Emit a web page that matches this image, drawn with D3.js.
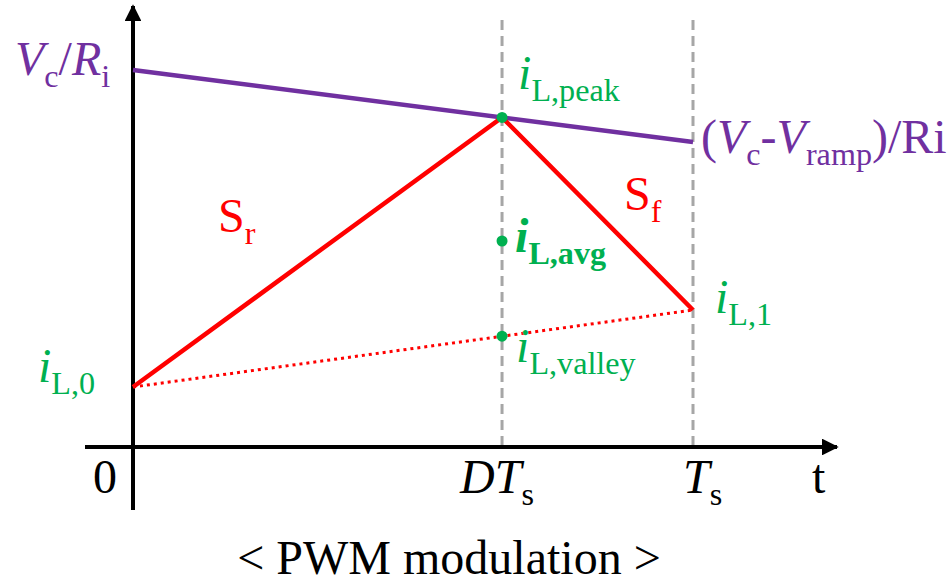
<!DOCTYPE html>
<html>
  <head>
    <meta charset="utf-8">
    <title>PWM modulation</title>
    <script src="https://d3js.org/d3.v7.min.js"></script>
    <style>
      body { margin: 0; background: #fff; }
      text { font-family: "Liberation Serif", "Times New Roman", serif; }
    </style>
  </head>
  <body>
    <div class="chart"></div>
    <script>
      // time points, in units of Ts
      var tPoints = [0, 0.659, 1];
      // inductor current: iL,0 / iL,peak / iL,1
      var iL = [15, 82.4, 34.25];
      // compensation ramp: Vc/Ri at 0, (Vc-Vramp)/Ri at Ts
      var ramp = [94.25, 76.25];
      var iValley = 27.7;
      var iAvg = 51.5;
      var tickLabels = ["0", "DT", "T", "t"];

      var purple = "#7030a0", red = "#ff0000", green = "#00b050";

      var svg = d3.select("div.chart").append("svg")
        .attr("width", 952)
        .attr("height", 585);

      var x = d3.scaleLinear().domain([0, 1]).range([133, 693]);
      var y = d3.scaleLinear().domain([0, 100]).range([447, 47]);

      var defs = svg.append("defs");
      defs.append("marker")
        .attr("id", "arrow")
        .attr("viewBox", "0 0 10 10")
        .attr("refX", 9).attr("refY", 5)
        .attr("markerWidth", 4.2).attr("markerHeight", 4.2)
        .attr("markerUnits", "strokeWidth")
        .attr("orient", "auto")
        .append("path").attr("d", "M0,0 L10,5 L0,10 Z").attr("fill", "#000");

      // dashed guides at DTs and Ts
      svg.selectAll("line.guide")
        .data(tPoints.slice(1))
        .enter().append("line")
        .attr("class", "guide")
        .attr("x1", d => x(d)).attr("x2", d => x(d))
        .attr("y1", 20).attr("y2", y(0))
        .attr("stroke", "#a6a6a6")
        .attr("stroke-width", 3)
        .attr("stroke-dasharray", "10,6");

      // axes
      svg.append("line")
        .attr("x1", 85).attr("x2", 837)
        .attr("y1", y(0)).attr("y2", y(0))
        .attr("stroke", "#000").attr("stroke-width", 4)
        .attr("marker-end", "url(#arrow)");
      svg.append("line")
        .attr("x1", x(0)).attr("x2", x(0))
        .attr("y1", 510).attr("y2", 6)
        .attr("stroke", "#000").attr("stroke-width", 4)
        .attr("marker-end", "url(#arrow)");

      var line = d3.line().x(d => x(d[0])).y(d => y(d[1]));

      // valley line (dotted)
      svg.append("path")
        .attr("d", line([[tPoints[0], iL[0]], [tPoints[2], iL[2]]]))
        .attr("fill", "none")
        .attr("stroke", red).attr("stroke-width", 3)
        .attr("stroke-dasharray", "3,4");

      // ramp
      svg.append("path")
        .attr("d", line([[tPoints[0], ramp[0]], [tPoints[2], ramp[1]]]))
        .attr("fill", "none")
        .attr("stroke", purple).attr("stroke-width", 4.5);

      // inductor current
      svg.append("path")
        .attr("d", line(tPoints.map((t, i) => [t, iL[i]])))
        .attr("fill", "none")
        .attr("stroke", red).attr("stroke-width", 4.5)
        .attr("stroke-linejoin", "miter");

      // dots
      svg.selectAll("circle")
        .data([iL[1], iAvg, iValley])
        .enter().append("circle")
        .attr("cx", x(tPoints[1]))
        .attr("cy", d => y(d))
        .attr("r", 5.5)
        .attr("fill", green);

      // parts: [text, italic, subscript, bold]
      function label(px, py, color, parts, size, anchor) {
        size = size || 48;
        var t = svg.append("text")
          .attr("x", px).attr("y", py)
          .attr("fill", color)
          .attr("font-size", size)
          .attr("text-anchor", anchor || "start");
        var down = false;
        parts.forEach(function (p) {
          var s = t.append("tspan").text(p[0]);
          if (p[1]) s.attr("font-style", "italic");
          if (p[3]) s.attr("font-weight", "bold");
          if (p[2]) {
            s.attr("font-size", size * 0.67);
            if (!down) { s.attr("dy", 12); down = true; }
          } else if (down) {
            s.attr("dy", -12); down = false;
          }
        });
        return t;
      }

      label(15, y(ramp[0]) + 5, purple,
        [["V", 1], ["c", 0, 1], ["/", 0], ["R", 1], ["i", 0, 1]]);
      label(x(1) + 8, y(ramp[1]) + 11, purple,
        [["(", 0], ["V", 1], ["c", 0, 1], ["-", 0], ["V", 1], ["ramp", 0, 1], [")/Ri", 0]]);

      label(218, 232, red, [["S", 0], ["r", 0, 1]]);
      label(624, 210, red, [["S", 0], ["f", 0, 1]]);

      label(x(tPoints[1]) + 16, y(iL[1]) - 28, green, [["i", 1], ["L,peak", 0, 1]]);
      label(x(tPoints[1]) + 13, y(iAvg) + 11, green, [["i", 1, 0, 1], ["L,avg", 0, 1, 1]]);
      label(x(tPoints[1]) + 14, y(iValley) + 26, green, [["i", 1], ["L,valley", 0, 1]]);
      label(x(1) + 22, y(iL[2]) + 3, green, [["i", 1], ["L,1", 0, 1]]);
      label(38, y(iL[0]) - 5, green, [["i", 1], ["L,0", 0, 1]]);

      // tick labels
      label(x(0) - 40, 493, "#000", [[tickLabels[0], 0]]);
      label(x(tPoints[1]) - 42, 493, "#000", [[tickLabels[1], 1], ["s", 0, 1]]);
      label(x(1) - 10, 493, "#000", [[tickLabels[2], 1], ["s", 0, 1]]);
      label(812, 493, "#000", [[tickLabels[3], 0]]);

      label(449, 574, "#000", [["< PWM modulation >", 0]], 48, "middle");
    </script>
  </body>
</html>
